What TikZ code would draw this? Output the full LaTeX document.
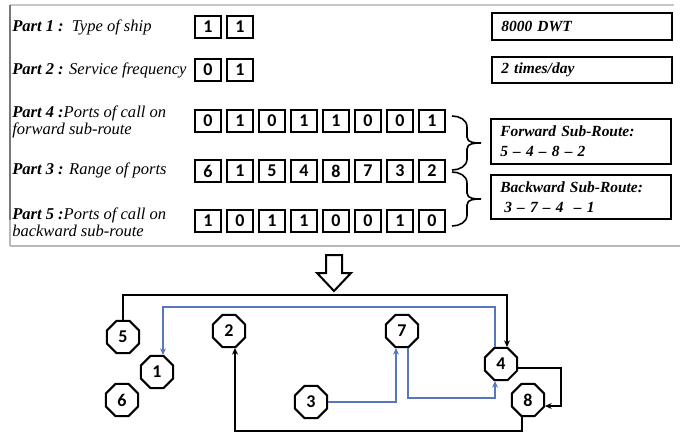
\documentclass[tikz,border=0pt]{standalone}
\usepackage{fontspec}
\setmainfont{Liberation Serif}
\newfontfamily\digitfont{Carlito}
\usetikzlibrary{shapes.geometric,arrows.meta,calc}
\definecolor{routeblue}{RGB}{88,118,190}
\definecolor{frametop}{RGB}{200,200,200}
\definecolor{frameleft}{RGB}{120,120,120}
\definecolor{framebottom}{RGB}{185,185,185}
\begin{document}
\begin{tikzpicture}[x=0.75pt,y=-0.75pt,
  bitbox/.style={draw, line width=1.7pt, minimum width=19.9pt, minimum height=16.5pt,
    inner sep=0pt, font=\digitfont\bfseries\fontsize{13.5}{13.5}\selectfont},
  partlabel/.style={anchor=west, inner sep=0pt, align=left,
    font=\fontsize{12.4}{12.75}\itshape\selectfont},
  infobox/.style={draw, line width=1.2pt, minimum width=135pt, text width=121pt,
    inner sep=0pt, align=left, font=\fontsize{11.6}{15}\bfseries\itshape\selectfont},
  bracepen/.style={line width=1.2pt},
  port/.style={draw, line width=1.5pt, regular polygon, regular polygon sides=8,
    minimum size=26pt, inner sep=0pt, font=\digitfont\bfseries\fontsize{13.5}{13.5}\selectfont},
  fwdline/.style={line width=1.6pt, -{Stealth[length=5pt,width=4.5pt]}},
  bwdline/.style={line width=1.3pt, draw=routeblue, -{Stealth[length=5pt,width=4.5pt]}}]
\useasboundingbox (0,0) rectangle (680,432);

% frame around the chromosome
\draw[frametop, line width=1.5pt] (10,5) -- (674,5);
\draw[frameleft, line width=1.5pt] (10,5) -- (10,220);
\draw[framebottom, line width=1.5pt] (10,220) -- (10,246);
\draw[framebottom, line width=2.2pt] (10,246) -- (680,246);

% part labels
\node[partlabel] (l1) at (12,27) {\textbf{Part 1 :}\ \ Type of ship};
\node[partlabel] (l2) at (12,70) {\textbf{Part 2 :} Service frequency};
\node[partlabel] (l4) at (12,122) {\textbf{Part 4 :}Ports of call on\\forward sub-route};
\node[partlabel] (l3) at (12,170) {\textbf{Part 3 :} Range of ports};
\node[partlabel] (l5) at (12,222) {\textbf{Part 5 :}Ports of call on\\backward sub-route};

% gene boxes
\foreach \v [count=\i] in {1,1}
  \node[bitbox] (ta\i) at ({208+32*(\i-1)},27) {\v};
\foreach \v [count=\i] in {0,1}
  \node[bitbox] (fr\i) at ({208+32*(\i-1)},70) {\v};
\foreach \v [count=\i] in {0,1,0,1,1,0,0,1}
  \node[bitbox] (fw\i) at ({208+32*(\i-1)},121) {\v};
\foreach \v [count=\i] in {6,1,5,4,8,7,3,2}
  \node[bitbox] (rg\i) at ({208+32*(\i-1)},171) {\v};
\foreach \v [count=\i] in {1,0,1,1,0,0,1,0}
  \node[bitbox] (bw\i) at ({208+32*(\i-1)},221) {\v};

% decoded values
\node[infobox, minimum height=20.25pt] (dwt) at (582,26.5) {8000 DWT};
\node[infobox, minimum height=19.5pt] (freq) at (582,70) {2 times/day};
\node[infobox, minimum height=33.75pt] (fwd) at (581,141.5)
  {Forward Sub-Route:\\5 -- 4 -- 8 -- 2};
\node[infobox, minimum height=33pt] (bwd) at (581,197)
  {Backward Sub-Route:\\\hspace*{3pt}3 -- 7 -- 4 \ -- 1};

% braces grouping the route rows
\draw[bracepen] (452,116) to[out=0,in=90] (467,127) -- (467,137)
  to[out=270,in=180] (481,143) to[out=180,in=90] (467,149) -- (467,159)
  to[out=270,in=0] (452,170);
\draw[bracepen] (452,172) to[out=0,in=90] (467,183) -- (467,193)
  to[out=270,in=180] (481,199) to[out=180,in=90] (467,205) -- (467,215)
  to[out=270,in=0] (452,226);

% hollow decoding arrow
\draw[line width=1.5pt, line join=miter] (326,255) -- (342,255) -- (342,273) -- (351,273)
  -- (334,291) -- (317,273) -- (326,273) -- cycle;

% ports
\node[port] (n5) at (123,337) {5};
\node[port] (n1) at (157,372) {1};
\node[port] (n6) at (122,400) {6};
\node[port] (n2) at (229,331) {2};
\node[port] (n3) at (311,402) {3};
\node[port] (n7) at (402,331) {7};
\node[port] (n4) at (501,364) {4};
\node[port] (n8) at (528,400) {8};

% forward sub-route 5-4-8-2
\draw[fwdline] (n5.north) -- ++(0,-25) -| ($(n4.north)+(6,0)$);
\draw[fwdline] ($(n4.east)+(0,4)$) -- ++(43,0) |- ($(n8.east)+(0,6)$);
\draw[fwdline] ($(n8.south)+(-6,0)$) -- ++(0,14) -| ($(n2.south)+(6,0)$);

% backward sub-route 3-7-4-1
\draw[bwdline] (n3.east) -| ($(n7.south)+(-6,0)$);
\draw[bwdline] ($(n7.south)+(6,0)$) -- ++(0,50) -| ($(n4.south)+(-6,0)$);
\draw[bwdline] ($(n4.north)+(-6,0)$) -- ++(0,-40) -| ($(n1.north)+(6,0)$);
\end{tikzpicture}
\end{document}
